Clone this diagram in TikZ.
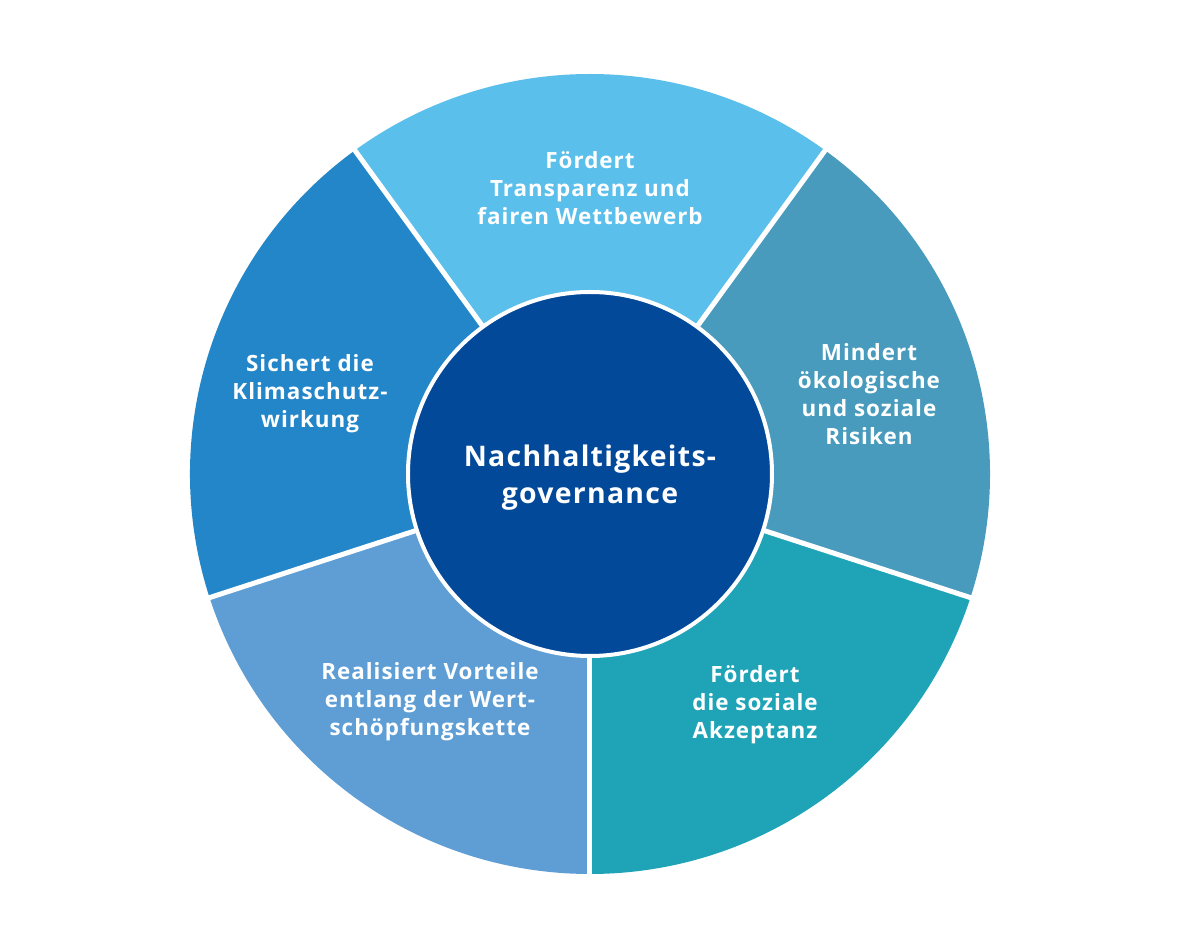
\documentclass[tikz,border=0pt]{standalone}
\usepackage{fontspec}
\setmainfont{Open Sans}
\newfontfamily\labfont[LetterSpace=4.5]{Open Sans}
\definecolor{cTop}{HTML}{5ABFEA}
\definecolor{cLeft}{HTML}{2386C8}
\definecolor{cRight}{HTML}{489BBC}
\definecolor{cBR}{HTML}{1FA4B7}
\definecolor{cBL}{HTML}{5E9ED5}
\definecolor{cCenter}{HTML}{03499A}
\tikzset{
  seglabel/.style={text=white, font=\labfont\fontsize{11.2pt}{14pt}\selectfont\bfseries, align=center, inner sep=0pt},
  divider/.style={draw=white, line width=2.5pt},
}
\begin{document}
\begin{tikzpicture}
\useasboundingbox[fill=white] (-295pt,-236.5pt) rectangle (295pt,237pt);
\def\R{200pt}
% wedges
\fill[cTop] (0,0) -- (54:\R) arc[start angle=54,end angle=126,radius=\R] -- cycle;
\fill[cLeft] (0,0) -- (126:\R) arc[start angle=126,end angle=198,radius=\R] -- cycle;
\fill[cBL] (0,0) -- (198:\R) arc[start angle=198,end angle=270,radius=\R] -- cycle;
\fill[cBR] (0,0) -- (270:\R) arc[start angle=270,end angle=342,radius=\R] -- cycle;
\fill[cRight] (0,0) -- (342:\R) arc[start angle=342,end angle=414,radius=\R] -- cycle;
% dividers
\foreach \a in {54,126,198,270,342}{
  \coordinate (o\a) at (\a:201pt);
  \coordinate (i\a) at (\a:80pt);
  \draw[divider] (i\a) -- (o\a);
}
% centre
\node[circle, fill=cCenter, draw=white, line width=2pt, minimum size=182pt, inner sep=0pt] (hub) at (0,0) {};
\node[text=white, font=\labfont\fontsize{14.2pt}{18.5pt}\selectfont\bfseries, align=center, inner sep=0pt] (hubtext) at (0,-2pt) {Nachhaltigkeits-\\governance};
% labels
\node[seglabel] (top) at (0,143pt) {Fördert\\Transparenz und\\fairen Wettbewerb};
\node[seglabel] (left) at (-140pt,40pt) {Sichert die\\Klimaschutz-\\wirkung};
\node[seglabel] (right) at (139.5pt,40pt) {Mindert\\ökologische\\und soziale\\Risiken};
\node[seglabel] (bl) at (-80pt,-114pt) {Realisiert Vorteile\\entlang der Wert-\\schöpfungskette};
\node[seglabel] (br) at (82.5pt,-115.5pt) {Fördert\\die soziale\\Akzeptanz};
\end{tikzpicture}
\end{document}
